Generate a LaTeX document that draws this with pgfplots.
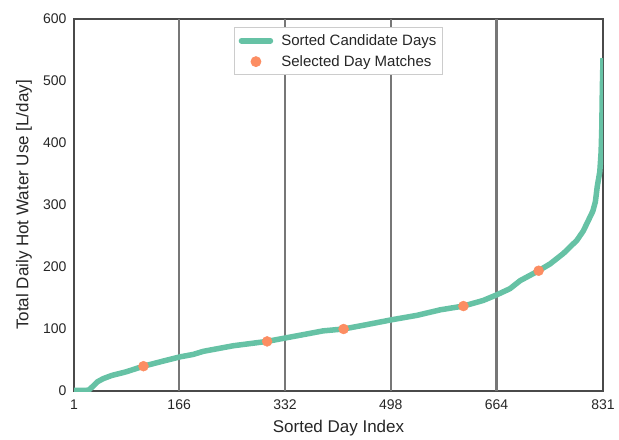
\documentclass[border=0pt]{standalone}
\usepackage{pgfplots}
\pgfplotsset{compat=1.18}
\usepackage{fontspec}
\setmainfont{Liberation Sans}
\definecolor{curve}{HTML}{66C2A5}
\definecolor{dots}{HTML}{FC8D62}
\definecolor{spine}{HTML}{4A4A4A}
\definecolor{vline}{HTML}{777777}
\definecolor{txt}{HTML}{262626}
\pgfplotsset{
  lineleg/.style={legend image code/.code={\draw[##1, line cap=round] (2.5pt,0pt) -- (31.5pt,0pt);}},
  dotleg/.style={legend image code/.code={\path (0pt,0pt) (34pt,0pt); \draw[##1] plot coordinates {(17pt,0pt)};}},
}
\begin{document}
\begin{tikzpicture}[x=1pt,y=1pt]
\begin{axis}[
  scale only axis,
  width=529pt, height=372pt,
  xmin=1, xmax=831, ymin=0, ymax=600,
  xtick={1,166,332,498,664,831},
  ytick={0,100,200,300,400,500,600},
  tick style={draw=none},
  axis line style={draw=spine, line width=1.3pt},
  tick label style={font=\fontsize{14}{16}\selectfont, text=txt},
  xticklabel style={yshift=-5pt},
  yticklabel style={xshift=-4pt},
  /pgf/number format/assume math mode=true,
  xlabel={Sorted Day Index},
  ylabel={Total Daily Hot Water Use [L/day]},
  every axis x label/.style={at={(rel axis cs:0.5,0)}, anchor=center, yshift=-37pt, font=\fontsize{17}{19}\selectfont, text=txt},
  every axis y label/.style={at={(rel axis cs:0,0.5)}, anchor=center, rotate=90, yshift=50pt, font=\fontsize{17}{19}\selectfont, text=txt},
  legend style={at={(0.5,0.978)}, anchor=north, draw=black!20, line width=0.8pt,
    font=\fontsize{15}{17}\selectfont, text=txt, row sep=4.5pt, column sep=6pt,
    inner xsep=4pt, inner ysep=5pt},
  legend cell align=left,
  clip=true,
]
\addplot[vline, line width=2.2pt, forget plot] coordinates {(166,0) (166,600)};
\addplot[vline, line width=2.2pt, forget plot] coordinates {(332,0) (332,600)};
\addplot[vline, line width=2.2pt, forget plot] coordinates {(498,0) (498,600)};
\addplot[vline, line width=2.2pt, forget plot] coordinates {(664,0) (664,600)};
\addplot[curve, line width=5.5pt, line join=round, lineleg] coordinates {
(1,1) (20,1) (25,2) (31,8) (38,15) (47,20) (60,25) (83,31) (110,40) (140,48)
(167,55) (188,59) (204,64) (251,73) (304,80) (335,86) (356,90) (392,97)
(424,100) (455,106) (500,115) (539,122) (576,131) (612,137) (643,146)
(664,155) (685,165) (701,178) (730,194) (748,205) (769,222) (790,243)
(800,258) (808,275) (815,290) (819,305) (822,330) (826,354) (828,385) (829,420) (830,490) (831,537)
};
\addlegendentry{Sorted Candidate Days}
\addplot[only marks, mark=*, mark size=5pt, color=dots, dotleg] coordinates {
(110,40) (304,80) (424,100) (612,137) (730,194)
};
\addlegendentry{Selected Day Matches}
\end{axis}
\path (current axis.south west) ++(-74pt,-45pt) (current axis.north east) ++(16pt,19pt);
\end{tikzpicture}
\end{document}
